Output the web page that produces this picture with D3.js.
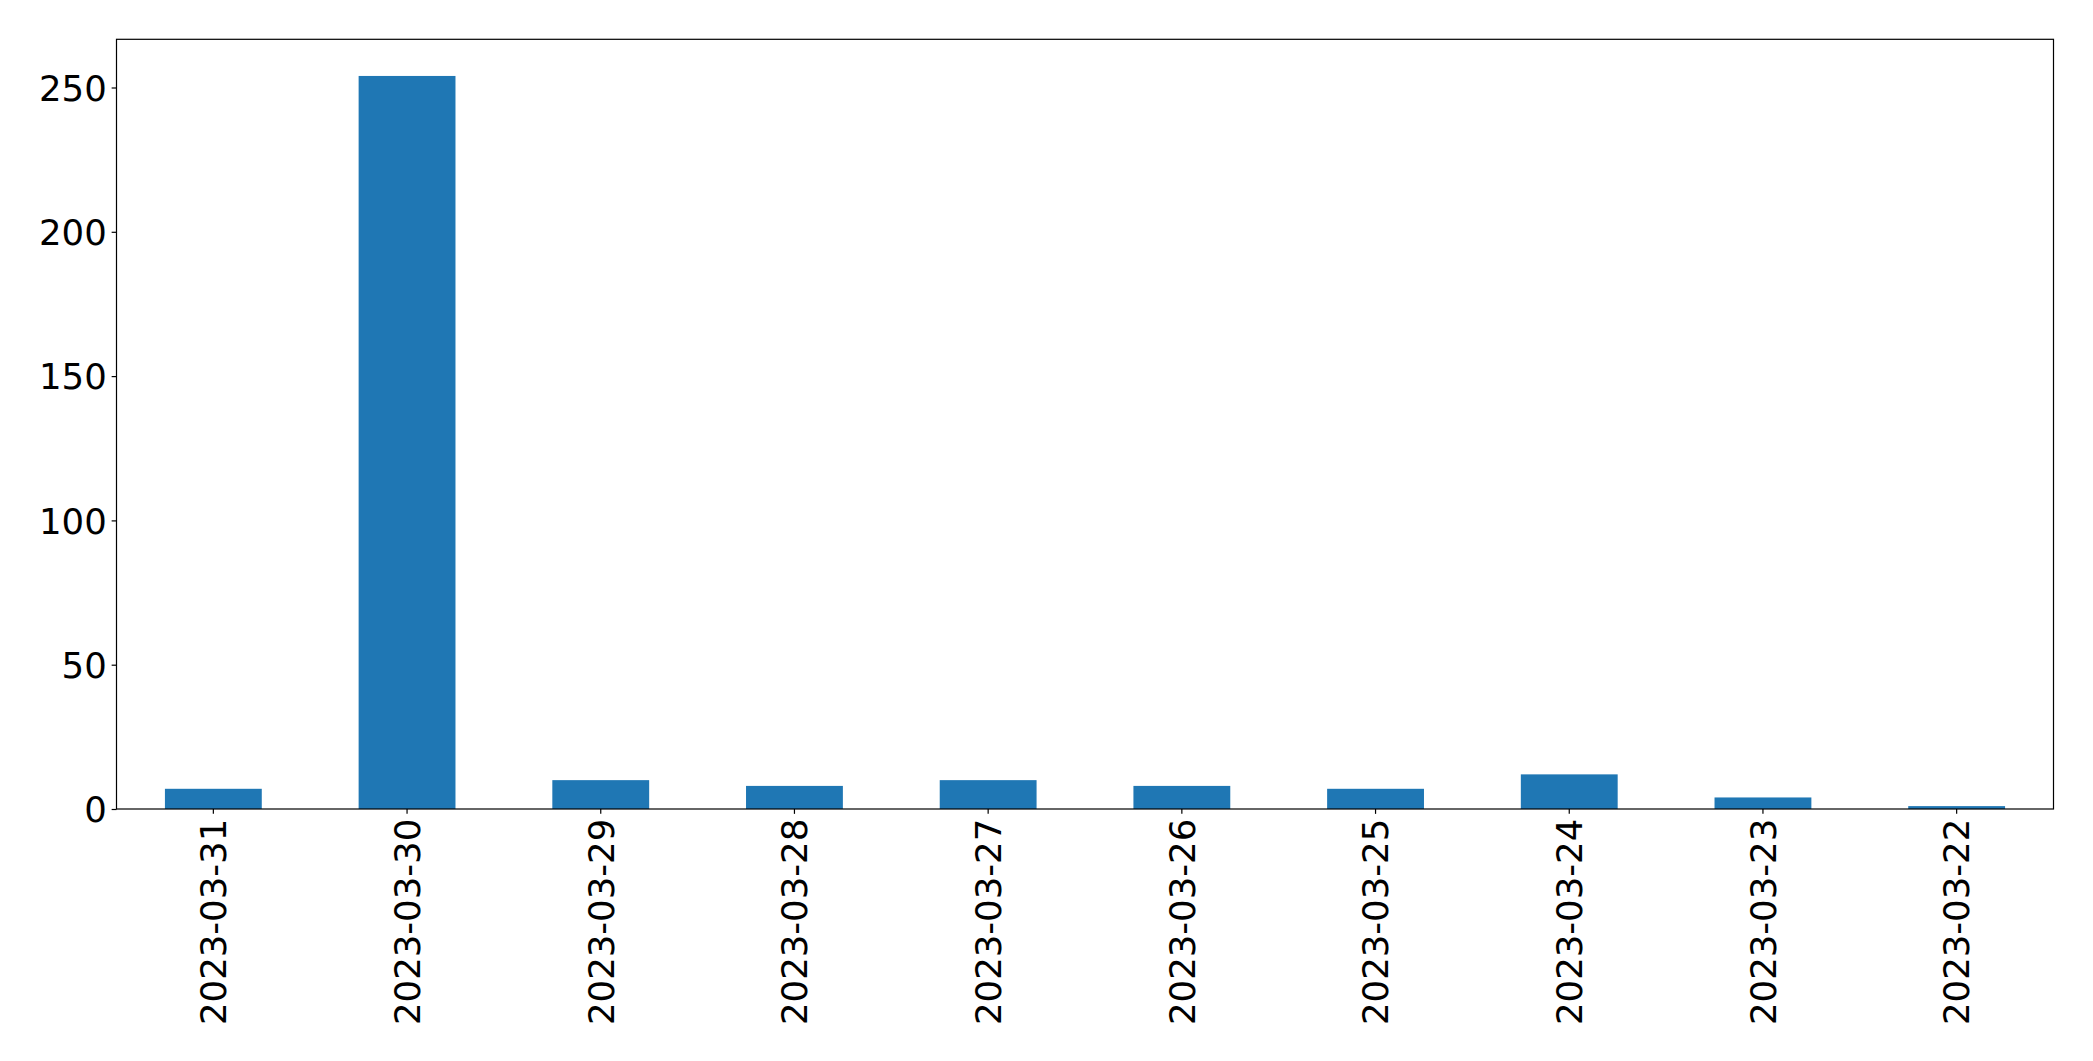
<!DOCTYPE html>
<html>
<head>
<meta charset="utf-8">
<script src="https://cdn.jsdelivr.net/npm/d3@7"></script>
<style>
  html, body { margin: 0; padding: 0; background: #fff; }
  svg { display: block; }
</style>
</head>
<body>
<svg id="chart" width="2093" height="1061"></svg>
<script>
const categories = ["2023-03-31","2023-03-30","2023-03-29","2023-03-28","2023-03-27","2023-03-26","2023-03-25","2023-03-24","2023-03-23","2023-03-22"];
const values = [7, 254, 10, 8, 10, 8, 7, 12, 4, 1];
const yTicks = [0, 50, 100, 150, 200, 250];

const W = 2093, H = 1061;
const margin = {left: 116.5, right: W - 2053.5, top: 39.3, bottom: H - 809};
const svg = d3.select("#chart");
const font = "'DejaVu Sans', sans-serif";
const fs = 35.5;
const tickLen = 4.86, pad = 4.86;

const x = d3.scaleBand().domain(categories)
  .range([margin.left, W - margin.right])
  .paddingInner(0.5).paddingOuter(0.25);
const yMax = d3.max(values) * 1.05;
const y = d3.scaleLinear().domain([0, yMax]).range([H - margin.bottom, margin.top]);

svg.append("g").selectAll("rect").data(values).join("rect")
  .attr("x", (d, i) => x(categories[i]))
  .attr("width", x.bandwidth())
  .attr("y", d => y(d))
  .attr("height", d => y(0) - y(d))
  .attr("fill", "#1f77b4");

// frame
svg.append("rect")
  .attr("x", margin.left).attr("y", margin.top)
  .attr("width", W - margin.right - margin.left)
  .attr("height", H - margin.bottom - margin.top)
  .attr("fill", "none").attr("stroke", "#000").attr("stroke-width", 1.2);

// y axis
const yAxis = svg.append("g").attr("transform", `translate(${margin.left},0)`)
  .call(d3.axisLeft(y).tickValues(yTicks).tickSize(tickLen).tickPadding(pad).tickFormat(d3.format("d")));
yAxis.select(".domain").remove();
yAxis.selectAll("line").attr("stroke", "#000").attr("stroke-width", 1.2);
yAxis.selectAll("text").attr("font-family", font).attr("font-size", fs).attr("fill", "#000")
  .attr("dy", "0.36em");

// x axis
const xAxis = svg.append("g").attr("transform", `translate(0,${H - margin.bottom})`)
  .call(d3.axisBottom(x).tickSize(tickLen).tickPadding(pad));
xAxis.select(".domain").remove();
xAxis.selectAll("line").attr("stroke", "#000").attr("stroke-width", 1.2);
xAxis.selectAll("text")
  .attr("font-family", font).attr("font-size", fs).attr("fill", "#000")
  .attr("text-anchor", "end")
  .attr("x", 0).attr("y", 0).attr("dy", "0.36em")
  .attr("transform", `translate(0,${tickLen + pad}) rotate(-90)`);
</script>
</body>
</html>
